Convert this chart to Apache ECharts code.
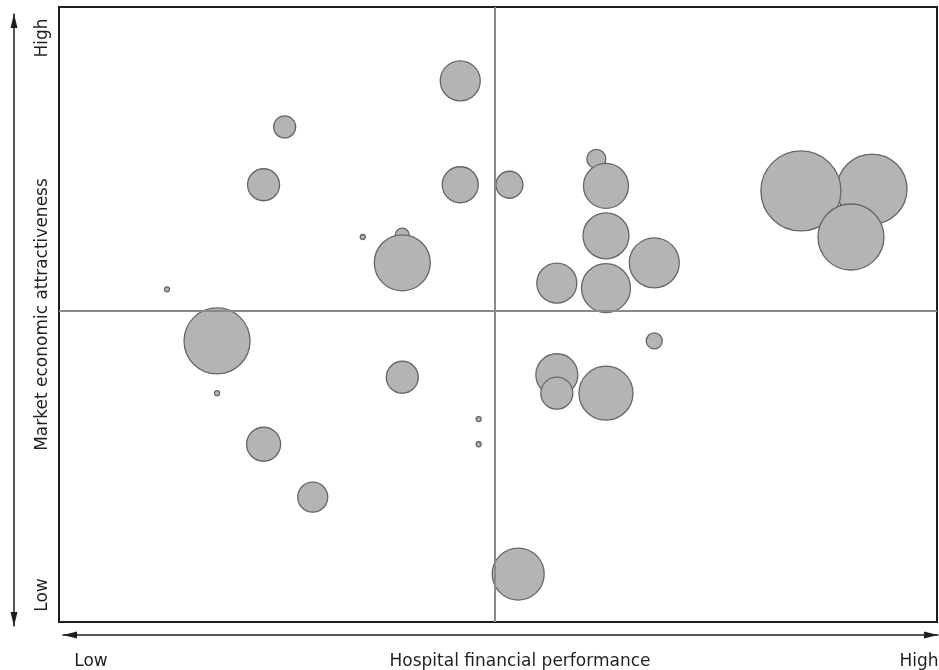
<!DOCTYPE html>
<html><head><meta charset="utf-8">
<script src="https://cdn.jsdelivr.net/npm/echarts@6/dist/echarts.min.js"></script>
<style>html,body{margin:0;padding:0;background:#fff}#c{width:939px;height:670px}</style>
</head><body><div id="c"></div>
<script>
// Bubble positions on a 0-100 scale (Low -> High) and bubble radius
const xValues = [45.7, 25.7, 23.3, 45.7, 51.3, 61.2, 62.3, 62.3, 67.8, 56.7, 62.3, 67.8, 56.7, 56.7, 62.3, 92.6, 84.5, 90.2, 34.6, 39.1, 39.1, 12.3, 18.0, 18.0, 39.1, 23.3, 28.9, 47.8, 47.8, 52.3];
const yValues = [88.0, 80.5, 71.1, 71.1, 71.1, 75.3, 70.9, 62.8, 58.4, 55.1, 54.3, 45.7, 40.2, 37.2, 37.2, 70.4, 70.1, 62.6, 62.6, 62.9, 58.4, 54.1, 45.7, 37.2, 39.8, 28.9, 20.3, 33.0, 28.9, 7.8];
const bubbleSize = [20, 11, 16, 18, 13.5, 9.5, 22.5, 23, 25, 20, 24.5, 8, 21, 16, 27, 35, 40, 33, 2.5, 7, 28, 2.5, 33, 2.5, 16, 17, 15, 2.5, 2.5, 26];
const xTickLabels = ['Low', 'High'];
const yTickLabels = ['Low', 'High'];
const xAxisName = 'Hospital financial performance';
const yAxisName = 'Market economic attractiveness';
const midX = 49.6;
const midY = 50.6;

const data = xValues.map((x, i) => [x, yValues[i], bubbleSize[i]]);
const font = 'DejaVu Sans';
const txt = '#231f20';
const arrowLine = {show: true, symbol: ['triangle', 'triangle'], symbolSize: [7, 14], symbolOffset: [7, -7],
  lineStyle: {color: '#1e1e1e', width: 1.5}};
const noGrid = {show: false, outerBoundsMode: 'none', containLabel: false};

const chart = echarts.init(document.getElementById('c'), null, {renderer: 'canvas'});
chart.setOption({
  animation: false,
  backgroundColor: '#fff',
  grid: [
    {left: 59, right: 2, top: 7, bottom: 48, show: true, borderColor: '#1e1e1e', borderWidth: 2, backgroundColor: '#fff', outerBoundsMode: 'none', containLabel: false},
    Object.assign({left: 63, right: 1, top: 100, bottom: 35}, noGrid),
    Object.assign({left: 14, width: 100, top: 14, bottom: 44}, noGrid)
  ],
  xAxis: [
    {
      type: 'value', gridIndex: 0, min: 0, max: 100, position: 'bottom',
      axisLine: {show: false}, axisTick: {show: false}, splitLine: {show: false},
      axisLabel: {
        customValues: [0, 100], margin: 31, color: txt, fontFamily: font, fontSize: 17,
        formatter: v => v === 0 ? '{lo|' + xTickLabels[0] + '}' : '{hi|' + xTickLabels[1] + '}',
        rich: {
          lo: {padding: [0, 0, 0, 64], fontFamily: font, fontSize: 17, color: txt},
          hi: {padding: [0, 36, 0, 0], fontFamily: font, fontSize: 17, color: txt}
        }
      },
      name: xAxisName, nameLocation: 'middle', nameGap: 31, nameMoveOverlap: false,
      nameTextStyle: {color: txt, fontFamily: font, fontSize: 17, padding: [0, 0, 0, 44]}
    },
    {
      type: 'value', gridIndex: 1, min: 0, max: 100, position: 'bottom',
      axisLine: arrowLine, axisTick: {show: false}, axisLabel: {show: false}, splitLine: {show: false}
    },
    {
      type: 'value', gridIndex: 2, min: 0, max: 100, position: 'bottom', show: false
    }
  ],
  yAxis: [
    {
      type: 'value', gridIndex: 0, min: 0, max: 100, position: 'left',
      axisLine: {show: false}, axisTick: {show: false}, splitLine: {show: false},
      axisLabel: {
        customValues: [0, 100], rotate: 90, margin: 8, color: txt, fontFamily: font, fontSize: 17,
        formatter: v => v === 0 ? '{lo|' + yTickLabels[0] + '}' : '{hi|' + yTickLabels[1] + '}',
        rich: {
          lo: {padding: [0, 0, 0, 54], fontFamily: font, fontSize: 17, color: txt},
          hi: {padding: [0, 62, 0, 0], fontFamily: font, fontSize: 17, color: txt}
        }
      },
      name: yAxisName, nameLocation: 'middle', nameGap: 8, nameMoveOverlap: false,
      nameTextStyle: {color: txt, fontFamily: font, fontSize: 17}
    },
    {
      type: 'value', gridIndex: 1, min: 0, max: 100, position: 'left', show: false
    },
    {
      type: 'value', gridIndex: 2, min: 0, max: 100, position: 'left',
      axisLine: arrowLine, axisTick: {show: false}, axisLabel: {show: false}, splitLine: {show: false}
    }
  ],
  series: [
    {
      type: 'scatter', xAxisIndex: 0, yAxisIndex: 0, z: 2,
      data: data,
      symbolSize: d => d[2] * 2,
      itemStyle: {color: '#b4b4b4', borderColor: '#666666', borderWidth: 1.3, opacity: 1},
      emphasis: {disabled: true}, silent: true
    },
    {
      type: 'scatter', xAxisIndex: 0, yAxisIndex: 0, z: 5, data: [], silent: true,
      markLine: {
        silent: true, symbol: 'none', label: {show: false},
        lineStyle: {color: '#8a8a8a', width: 2, type: 'solid'},
        data: [{xAxis: midX}, {yAxis: midY}]
      }
    }
  ]
});
</script></body></html>
